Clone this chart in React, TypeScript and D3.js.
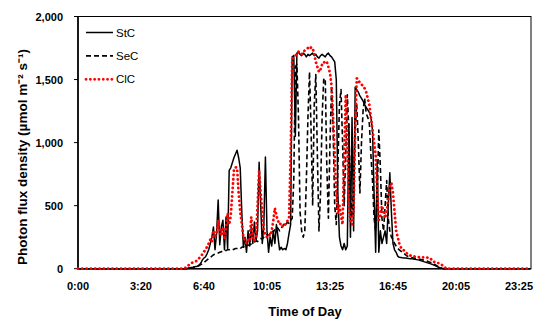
import * as d3 from 'd3';

// 5-minute readings, 0:00 .. 23:55 (288 points)
const StC: number[] = [
  0, 0, 0, 0, 0, 0, 0, 0, 0, 0, 0, 0, 0, 0, 0, 0, 0, 0, 0, 0,
  0, 0, 0, 0, 0, 0, 0, 0, 0, 0, 0, 0, 0, 0, 0, 0, 0, 0, 0, 0,
  0, 0, 0, 0, 0, 0, 0, 0, 0, 0, 0, 0, 0, 0, 0, 0, 0, 0, 0, 0,
  0, 0, 0, 0, 0, 0, 0, 0, 0, 0, 5, 8, 10, 12, 15, 18, 20, 30, 45, 70,
  85, 95, 120, 150, 200, 250, 330, 150, 280, 545, 190, 330, 385, 150, 410, 160, 780, 800, 840, 880,
  910, 940, 880, 800, 450, 170, 250, 130, 300, 180, 330, 200, 370, 220, 300, 845, 500, 200, 350, 885,
  300, 130, 250, 180, 300, 200, 350, 250, 150, 170, 150, 160, 150, 200, 280, 350, 1680, 1690, 1050, 1710,
  1720, 1700, 1690, 1710, 1700, 1680, 1700, 1690, 1700, 1710, 1690, 1700, 1680, 1670, 1690, 1700, 1690, 1680, 1700, 1710,
  1690, 1680, 1660, 1640, 1500, 600, 250, 180, 150, 200, 150, 180, 1150, 250, 1200, 300, 1440, 1420, 1400, 1370,
  1350, 1330, 1300, 1280, 1260, 1240, 1200, 1100, 600, 130, 860, 130, 300, 200, 250, 300, 200, 500, 760, 450,
  200, 150, 130, 100, 90, 88, 86, 85, 84, 82, 80, 79, 78, 76, 74, 72, 70, 66, 62, 58,
  54, 50, 46, 42, 38, 34, 28, 22, 17, 12, 8, 4, 2, 0, 0, 0, 0, 0, 0, 0,
  0, 0, 0, 0, 0, 0, 0, 0, 0, 0, 0, 0, 0, 0, 0, 0, 0, 0, 0, 0,
  0, 0, 0, 0, 0, 0, 0, 0, 0, 0, 0, 0, 0, 0, 0, 0, 0, 0, 0, 0,
  0, 0, 0, 0, 0, 0, 0, 0,
];

const SeC: number[] = [
  0, 0, 0, 0, 0, 0, 0, 0, 0, 0, 0, 0, 0, 0, 0, 0, 0, 0, 0, 0,
  0, 0, 0, 0, 0, 0, 0, 0, 0, 0, 0, 0, 0, 0, 0, 0, 0, 0, 0, 0,
  0, 0, 0, 0, 0, 0, 0, 0, 0, 0, 0, 0, 0, 0, 0, 0, 0, 0, 0, 0,
  0, 0, 0, 0, 0, 0, 0, 0, 0, 0, 3, 5, 8, 10, 13, 16, 20, 25, 32, 40,
  50, 60, 70, 80, 90, 100, 110, 115, 120, 125, 130, 135, 140, 140, 145, 150, 150, 155, 150, 155,
  160, 160, 165, 160, 170, 175, 170, 180, 185, 190, 195, 200, 210, 220, 215, 230, 240, 235, 250, 260,
  270, 265, 280, 300, 290, 310, 330, 320, 300, 320, 340, 360, 350, 370, 360, 380, 400, 700, 1600, 1620,
  1200, 450, 300, 250, 300, 700, 1200, 1560, 1100, 500, 1300, 1540, 900, 300, 600, 1200, 1500, 1510, 800, 400,
  1000, 1450, 1100, 500, 350, 800, 1300, 1420, 1000, 500, 900, 1380, 1100, 600, 400, 700, 1100, 1300, 1000, 600,
  1000, 1250, 1350, 1230, 1200, 1150, 900, 700, 400, 300, 600, 1100, 800, 400, 300, 500, 700, 400, 300, 250,
  230, 200, 180, 160, 150, 140, 130, 120, 110, 100, 95, 90, 88, 85, 82, 80, 78, 75, 72, 70,
  66, 62, 58, 54, 50, 44, 38, 30, 22, 15, 9, 4, 0, 0, 0, 0, 0, 0, 0, 0,
  0, 0, 0, 0, 0, 0, 0, 0, 0, 0, 0, 0, 0, 0, 0, 0, 0, 0, 0, 0,
  0, 0, 0, 0, 0, 0, 0, 0, 0, 0, 0, 0, 0, 0, 0, 0, 0, 0, 0, 0,
  0, 0, 0, 0, 0, 0, 0, 0,
];

const ClC: number[] = [
  0, 0, 0, 0, 0, 0, 0, 0, 0, 0, 0, 0, 0, 0, 0, 0, 0, 0, 0, 0,
  0, 0, 0, 0, 0, 0, 0, 0, 0, 0, 0, 0, 0, 0, 0, 0, 0, 0, 0, 0,
  0, 0, 0, 0, 0, 0, 0, 0, 0, 0, 0, 0, 0, 0, 0, 0, 0, 0, 0, 0,
  0, 0, 0, 0, 0, 0, 0, 0, 5, 15, 25, 35, 45, 50, 55, 60, 70, 85, 100, 115,
  135, 150, 175, 200, 230, 210, 305, 260, 270, 385, 300, 260, 330, 230, 320, 440, 350, 420, 600, 780,
  805, 800, 600, 450, 360, 250, 220, 200, 230, 220, 410, 260, 220, 250, 500, 780, 600, 450, 300, 270,
  250, 270, 260, 300, 380, 480, 420, 380, 350, 360, 330, 340, 360, 380, 400, 900, 1655, 1680, 1690, 1700,
  1720, 1710, 1700, 1720, 1730, 1740, 1750, 1740, 1755, 1750, 1700, 1640, 1600, 1560, 1580, 1620, 1640, 1630, 1640, 1600,
  1550, 1450, 1200, 900, 600, 440, 500, 420, 350, 900, 1380, 1000, 500, 380, 350, 460, 1100, 1510, 1500, 1470,
  1460, 1450, 1430, 1400, 1350, 1300, 1200, 1100, 1000, 900, 600, 385, 420, 500, 450, 400, 450, 560, 650, 680,
  600, 450, 300, 250, 200, 170, 150, 145, 130, 120, 110, 105, 100, 98, 96, 95, 92, 90, 88, 90,
  92, 90, 88, 85, 80, 60, 55, 50, 45, 45, 40, 30, 20, 10, 0, 0, 0, 0, 0, 0,
  0, 0, 0, 0, 0, 0, 0, 0, 0, 0, 0, 0, 0, 0, 0, 0, 0, 0, 0, 0,
  0, 0, 0, 0, 0, 0, 0, 0, 0, 0, 0, 0, 0, 0, 0, 0, 0, 0, 0, 0,
  0, 0, 0, 0, 0, 0, 0, 0,
];

const X_TICK_LABELS = ['0:00', '3:20', '6:40', '10:05', '13:25', '16:45', '20:05', '23:25'];
const X_TICK_STEP = 40;
const Y_TICKS = [0, 500, 1000, 1500, 2000];

const SERIES = [
  { name: 'StC', values: StC, color: '#000', dash: undefined as string | undefined, width: 1.5, cap: 'butt' },
  { name: 'SeC', values: SeC, color: '#000', dash: '5 3', width: 1.6, cap: 'butt' },
  { name: 'ClC', values: ClC, color: '#ff0000', dash: '0.1 4.2', width: 2.8, cap: 'round' },
];

export default function App() {
  const W = 539;
  const H = 321;
  const left = 78;
  const right = 531;
  const top = 16.5;
  const bottom = 268.7;
  const font = '"Liberation Sans", Arial, sans-serif';

  const x = d3.scaleLinear().domain([0, 287]).range([left, 530]);
  const y = d3.scaleLinear().domain([0, 2000]).range([bottom, top]);

  const line = d3
    .line<number>()
    .x((_, i) => x(i))
    .y(d => y(d));

  return (
    <svg width={W} height={H} style={{ position: 'absolute', left: 0, top: 0, background: '#fff' }}>
      {/* plot frame */}
      <rect x={left} y={top} width={right - left} height={bottom - top} fill="none" stroke="#000" strokeWidth={1} />
      <line x1={left} x2={left} y1={top} y2={bottom} stroke="#000" strokeWidth={1.6} />
      <line x1={left} x2={right} y1={bottom} y2={bottom} stroke="#000" strokeWidth={1.6} />

      {/* y axis */}
      {Y_TICKS.map(t => (
        <g key={t}>
          <line x1={left - 4} x2={left} y1={y(t)} y2={y(t)} stroke="#000" strokeWidth={1} />
          <text x={63} y={y(t)} textAnchor="end" dominantBaseline="central" fontSize={11} fontWeight={700} fontFamily={font} fill="#000">
            {d3.format(',')(t)}
          </text>
        </g>
      ))}

      {/* x axis */}
      {X_TICK_LABELS.map((lab, i) => (
        <text key={lab} x={x(i * X_TICK_STEP)} y={290} textAnchor="middle" fontSize={11} fontWeight={700} fontFamily={font} fill="#000">
          {lab}
        </text>
      ))}

      {/* series */}
      {SERIES.map(s => (
        <path
          key={s.name}
          d={line(s.values) ?? ''}
          fill="none"
          stroke={s.color}
          strokeWidth={s.width}
          strokeDasharray={s.dash}
          strokeLinecap={s.cap as 'butt' | 'round'}
          strokeLinejoin="round"
        />
      ))}

      {/* legend */}
      {SERIES.map((s, i) => {
        const ly = 32.5 + i * 23.4;
        return (
          <g key={s.name}>
            <line x1={86} x2={113} y1={ly} y2={ly} stroke={s.color} strokeWidth={s.width} strokeDasharray={s.dash} strokeLinecap={s.cap as 'butt' | 'round'} />
            <text x={116} y={ly} dominantBaseline="central" fontSize={11.5} fontFamily={font} fill="#000">
              {s.name}
            </text>
          </g>
        );
      })}

      {/* axis titles */}
      <text x={305} y={316} textAnchor="middle" fontSize={13} fontWeight={700} fontFamily={font} fill="#000">
        Time of Day
      </text>
      <text
        transform={`translate(22,157) rotate(-90)`}
        textAnchor="middle"
        dominantBaseline="central"
        fontSize={13.5}
        fontWeight={700}
        fontFamily={font}
        fill="#000"
      >
        Photon flux density (µmol m⁻² s⁻¹)
      </text>
    </svg>
  );
}
